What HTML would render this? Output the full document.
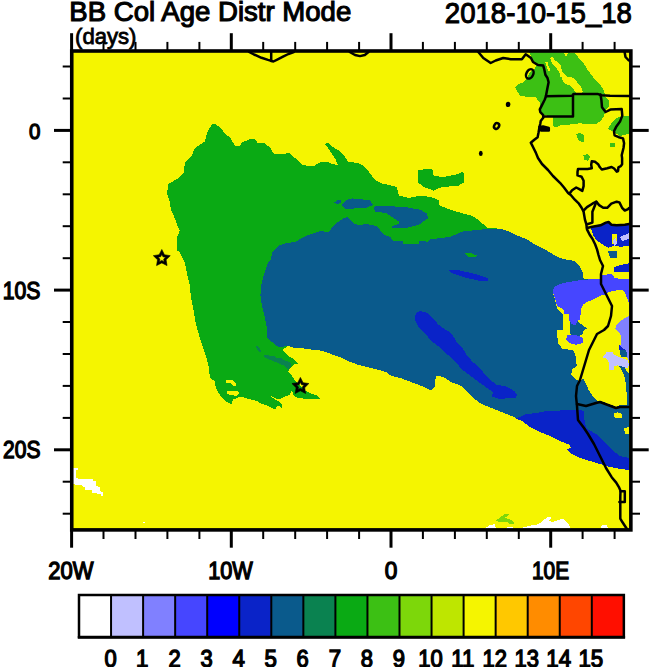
<!DOCTYPE html>
<html><head><meta charset="utf-8"><title>BB Col Age Distr Mode</title>
<style>html,body{margin:0;padding:0;background:#fff;width:650px;height:667px;overflow:hidden}
svg{display:block}
text{font-family:"Liberation Sans",Arial,sans-serif;fill:#000}
</style></head><body>
<svg width="650" height="667" viewBox="0 0 650 667">
<defs><clipPath id="mc"><rect x="72" y="51" width="558" height="478"/></clipPath></defs>
<rect x="0" y="0" width="650" height="667" fill="#fff"/>
<g clip-path="url(#mc)" shape-rendering="crispEdges">
<rect x="72" y="51" width="558" height="478" fill="#F5F500"/>

<polygon fill="#0AAA14" points="212,124 216,124.5 222,129 225,134 230,137.5 235,146 240,146 242,142.5 250,139 255,139.5 257.5,142.5 264,142.8 270.4,148 274,154 283,154 289,153 295,158 303,165 313,166.5 319,162.7 327.7,161.5 331.5,164 337.7,165 336,160 332,154 328,148 325,144 328,142.3 333,147 338,150 344,155 347.7,161.5 357.7,163 362.7,165 367.6,170 371.4,175 375,180 382.6,184 387,184.5 396.7,187 399,195.6 409,198 413.9,196.8 423.7,195.6 433.6,198 438.5,200 438.5,205 448.4,209 460.7,212.8 470.5,215.3 475.5,217.7 482.9,223.9 487.8,228 500.7,228.7 508.2,231.2 515.7,235 525.7,238.7 535.6,244.9 545.6,249.9 554,255 560,258 568,260 571.2,260 576,262 580.2,267 583,272.5 583.6,279.4 629,279 629,470 620,469 610,467 600,464 590,461 580,458 572,454 566,449 571,448 570,445 560,441 550,436 540,432 530,427 520.7,420 510.7,415.6 498.2,410.7 485.8,405.7 478.3,402 470.8,395.7 465.8,390.7 460.8,385.7 450.8,382 443.4,377 435.9,375.7 434.6,387 430.9,390.7 421,385.7 411,382 401,378.2 391,375.7 386,372 377.6,369.6 367.6,367.1 357.7,364.6 347.7,360.9 340.2,357.1 332.7,354.6 322.8,350.9 312.8,349.7 302.8,348.4 295.3,348.4 287.9,345.9 282,350 288,356 294,359 298,364 294,364 290,368 288,372 292,376 296,382 304,390 310,393 318,396 320,399 308,399 298,398 294,396 292,390 290,394.6 287.5,395.8 283.8,397.1 278.9,399.5 272.8,397.1 270.3,394.6 271.5,397.1 275.2,399.5 277.7,400.8 280.8,403.2 282.6,405.7 281.4,408.2 278.9,405.7 276.5,406.9 275.2,409.4 272.8,408.2 269.1,406.3 264.2,404.5 260.5,403.2 256.8,400.8 250.6,399.5 244.5,397.7 239.5,396.5 237.1,398.3 232.8,399.5 232.2,403.8 228.5,403.2 223.5,399.5 221.1,397.1 217.4,390.9 215.5,386 214.9,381.1 210,378 208.4,364.6 204.7,352.1 199.7,337.2 196,324.7 193.4,309.8 191,297.3 189.7,284.8 187.2,274.8 184.7,262.4 179.7,252.4 176.7,250 177.2,237.4 179.7,230 177.2,225 173.5,215 171,210 170,203 167,193 168.5,184 177,179 183.5,173 185,163 192,155 195,148 205,141.5 207,133"/>
<polygon fill="#0A5A8C" points="271,260 272,253 278,246 284,243.6 296,241.6 302,238 308,235 312,234 320,231 328,232 331,229 334,225 338,222 344,218 348,217 350,220 354,224 360,225 366,224 376,226 380,230 384,235 390,236.9 393.4,240.6 403.2,240.6 403.2,244.3 419.2,244.3 419.2,240.6 427.8,241.8 430.3,239.4 438.9,238.2 450,236.9 463.2,231.3 477.9,230 487.8,228.8 500.7,228.7 508.2,231.2 515.7,235 525.7,238.7 535.6,244.9 545.6,249.9 554,255 560,258 568,260 571.2,260 576,262 580.2,267 583,272.5 583.6,279.4 629,279 629,470 620,469 610,467 600,464 590,461 580,458 572,454 566,449 571,448 570,445 560,441 550,436 540,432 530,427 520.7,420 510.7,415.6 498.2,410.7 485.8,405.7 478.3,402 470.8,395.7 465.8,390.7 460.8,385.7 450.8,382 443.4,377 435.9,375.7 434.6,387 430.9,390.7 421,385.7 411,382 401,378.2 391,375.7 386,372 377.6,369.6 367.6,367.1 357.7,364.6 347.7,360.9 340.2,357.1 332.7,354.6 322.8,350.9 312.8,349.7 302.8,348.4 295.3,348.4 287.9,345.9 280.4,347.2 276,346 272,342 267,338 266.7,327.2 264.2,314.7 261.7,304.8 260.4,294.8 261.7,282.3 265.4,269.9 267.9,262.4"/>
<polygon fill="#0A5A8C" points="341,205 346,200 352,198.4 360,199 370,200.5 373,205 366,208 354,208.5 346,209"/>
<polygon fill="#0A5A8C" points="374.9,205.5 390.9,206.2 406.9,207.4 420.5,209.8 426.6,213.5 428.5,217.8 424.2,220.9 419.2,224.6 406.9,227.7 392.2,227.7 391.5,226.5 398.3,224 399.5,221.5 395.8,219.7 386,212.9 374.9,211.7 374.3,208.6"/>
<polygon fill="#0A5A8C" points="334,202.5 338,200.2 341,200.2 341,203 337.5,204"/>
<polygon fill="#F5F500" points="553.3,289.2 581,280 629,279 629,404.3 619.3,405.2 616.6,407.1 611.9,405.2 606.4,403.4 602.7,401.6 597.2,400.6 593.5,397 588.9,390.5 586.1,384 583.3,378.5 580.1,381.3 576,380 571.3,374.5 572,369.1 576.7,366.4 576,357 573.3,350.2 562.5,348.9 558.5,343.5 557.1,335.4 557,330 562.5,329.9 562.5,314.2 557,308 553.3,293.8"/>
<polygon fill="#0A5A8C" points="617.8,365.3 621.2,365.5 624.9,367.4 626.7,371 629,373 629,405 626.5,405 626.5,392 625.5,382 624,375 621,369"/>
<polygon fill="#0A5A8C" points="619.6,350.4 626.8,350.4 627.4,357 621,357"/>
<polygon fill="#0A23C8" points="619,345 626.2,345 626.2,350.4 619,350.4"/>
<polygon fill="#0A5A8C" points="569.5,320.6 577.3,321.1 580.1,323.4 583.8,326.2 587.5,328 583.8,329.9 582.9,333.6 579.2,336.3 572.7,335.4 569.9,333.6 569.9,326.2"/>
<polygon fill="#4646FF" points="553.3,289.2 555.2,286.5 559.8,284.2 567.2,282.3 574.5,281 581,280 599.6,278.7 601,275.2 606.5,274.5 612,273.9 614.8,278 623,279.4 629,278.7 629,303 624.5,291.9 621.7,289.8 616.2,290.5 609.3,291.9 605.1,294.6 600.4,295.7 596.7,297.5 591.2,300.3 585.6,302.6 582.9,304.9 581,308.6 580.5,315.1 580.1,319.7 577.3,321.1 575.5,325.2 571.8,324.3 569.5,320.6 569,314.2 564.4,314.2 563.5,309.5 560.7,307.7 557,305.9 555.2,298.5 553.3,293.8"/>
<polygon fill="#4646FF" points="567.3,335.4 574,334.5 579.2,336.3 582.8,338 582.8,343 576,344.8 569,343 566,339"/>
<polygon fill="#8080FF" points="627.4,316.8 620.2,321 616,325.2 615.4,328.8 619,332.4 620.8,336 621.4,343.2 620.2,346.2 626.2,350.4 627.4,357.6 629,361 629,316"/>
<polygon fill="#C0C0FF" points="603.4,356.4 607,351.6 611.8,351.6 614.8,355.2 620,357.5 627.4,360 629,364.7 627.4,368.3 621,366 617.2,365.3 614.2,366.5 613.6,369.5 609.4,369.5 608.8,362.4 607,358.8 603.4,357.6"/>
<polygon fill="#F5F500" points="613.8,413 618,412.3 621.9,414 621.5,417.7 616,418 613.8,416"/>
<polygon fill="#F5F500" points="624,428 629,427 629,434 625,434"/>
<polygon fill="#0A23C8" points="419.7,311 425.9,312.2 432.1,317.2 438.4,324.7 446,330 450,332 453.1,336.2 456.9,342.3 462.3,347.7 466.9,355.4 472.3,361.5 479.2,367.7 485.4,374.6 491.5,380.8 496.2,384.6 505.4,386.2 510,388.5 514.6,391.5 516.9,394.6 516.2,397.7 506.9,397.7 503.8,399.2 497.7,398.5 491.5,396.2 493.1,393.1 490,390 485.4,386.9 479.2,382.3 473.1,377.7 466.9,373.1 460.8,368.5 456.2,362.3 450,356.2 445.4,353.1 439.2,346.9 433.1,342.3 430,339.2 425.9,334.7 418.4,327.2 414.7,319.7 416,313"/>
<polygon fill="#0A23C8" points="448,270 460,270.5 475,274 488,278 488,281 478,280.5 465,277.5 452,273"/>
<polygon fill="#0A23C8" points="515,419 525.7,414.4 535.6,413.1 546,411 560,410.5 572,410 578,409.6 584,411 584,417 586,428 596,434 604,442 612,450 620,456 629,458 629,470 620,469 610,467 600,464 590,461 580,458 572,454 566,449 571,448 570,445 560,441 550,436 540,432 530,427 520.7,420"/>
<polygon fill="#0A23C8" points="591,226.7 600.5,225.3 605.9,222.6 608.6,222 611.3,224.7 616.7,225.3 624.8,224.7 629,224 629,245.6 627.5,245.6 620.7,246.9 614,245.6 608.6,247.6 604.5,245.6 600.5,242.9 596.4,240.2 593.7,236.1 591.7,231.4"/>
<polygon fill="#F5F500" points="612,234 616.7,234 616.7,243.5 612,243.5"/>
<polygon fill="#C0C0FF" points="620,237 629,233 629,239 622,241"/>
<polygon fill="#C0C0FF" points="613,240 616,238 617,244 614,246"/>
<polygon fill="#0A23C8" points="614,267 620,265 626,264 629,263 629,272 622,272 614,272"/>
<polygon fill="#0A5A8C" points="608,251 616.7,251 616.7,257.7 610,257.7"/>
<polygon fill="#0AAA14" points="464.6,253 470,252.9 477,255.5 476,257.4 468,256.5"/>
<polygon fill="#0A8250" points="255.4,345 258,346.5 261.5,351 260,352.7 257,349"/>
<polygon fill="#0A8250" points="264.2,355 268.5,355.4 272.3,356.2 275.4,356.5 276.9,358.5 280.8,358 283.8,360 288.5,361.5 290.8,363 290.8,367 288.5,369.6 286.2,367.7 283.8,365.4 280.8,364.6 277.7,363 273,360.8 268.5,359.2 264.6,357.7"/>
<polygon fill="#F5F500" points="226,380 232,380 235.8,383 235.8,386 233,386 231,383 226,383"/>
<polygon fill="#F5F500" points="227.2,391 238,391 239.5,393 237,396 231,395 227.2,394"/>
<polygon fill="#0AAA14" points="417.6,169.7 432.4,169.2 433.6,175.9 443.4,177.1 455.8,174.6 461.9,172.2 464.4,173.4 464.4,182 458.2,185.7 443.4,187 438.5,188.2 433.6,190.6 423.7,187 417.6,182"/>
<polygon fill="#3CC014" points="528.8,52 566,52 574.4,53.2 577.7,56.5 580.9,60.8 584.1,64 587.4,69.4 590.6,73.7 593.8,78 598.1,82.3 601.4,86.6 603.5,89.8 604.6,93 604.6,96 609,100 609,106 606,110 604,116 600.8,121 596,124 579.2,123.4 569.6,124.6 560,125.5 556,127.4 553,126 553,117.5 546,115 543,114.8 540.3,112.1 539.8,109.4 540,103 536,97.5 520,96 515,87 518,84 524,82 527,78 530,72 534,70 536,66 532,58"/>
<polygon fill="#F5F500" points="550,57.7 552.7,57.3 555,60.4 558.8,62.7 561.2,66.5 561.9,71.9 565,74.2 567.3,76.5 574.2,78.1 576.5,81.2 578.1,83.5 580.4,85.8 581.9,88.1 582.7,91.2 581.9,93.8 576.5,93.8 575.8,92.7 573.5,88.8 570.4,85.8 565.8,84.2 562.7,81.9 562.3,77.3 560.4,76.5 559.6,72.7 556.5,68.1 552.3,63.5"/>
<polygon fill="#F5F500" points="545,62.3 547.5,62.3 548.8,66.5 550.4,70.4 548,71.2 546.5,65.8"/>
<polygon fill="#F5F500" points="564.2,53 568.5,53 566,56.5"/>
<polygon fill="#3CC014" points="608,128.8 611.6,122.8 616.4,118 623.5,115.6 629,115.6 629,133.6 620,136 614,132"/>
<polygon fill="#3CC014" points="576,134 580,133 584,135 584,142.6 579,141"/>
<polygon fill="#3CC014" points="610.4,143.2 614.6,143.2 614.6,146.8 610.4,146.8"/>
<polygon fill="#3CC014" points="583.4,155 588,154 590.6,157 588,160.6 584,160"/>
<polygon fill="#7DD70A" points="496.2,520.4 500,517.3 504.6,514.2 509.2,513.5 507.7,515.8 504.6,518 510.8,519.6 512.3,521.2 514.6,522.7 513,524.2 509.2,524.2 507.7,521.9 498.5,521.9"/>
<polygon fill="#FFFFFF" points="73,468 78,468 78,469.8 76.2,469.8 76.2,477.8 78,478.5 92.8,479.1 93.1,480.9 95.8,481.2 96.2,485.8 98.3,486.5 99.8,487.1 100.2,491.1 102,491.7 102.9,492.6 102.9,495.7 101.1,495.7 100.8,493.5 97.1,493.5 92.2,492.6 91.5,490.2 85.1,489.8 84.8,487.7 82.3,485.8 81.7,484.6 74.9,484.6 73,483.4"/>
<polygon fill="#FFFFFF" points="520,528.5 529.2,525.8 538.5,524.2 543.1,520.4 547.7,517.3 551.5,517.3 549.2,520.4 552.3,521.9 561.5,519.2 564.6,519.6 569.2,525 570.8,528.5"/>
<polygon fill="#FFFFFF" points="485.4,528.5 489.2,525 494.6,524.2 496,528.5"/>
<polygon fill="#FFFFFF" points="506,528.5 507,526.5 512,526.5 513,528.5"/>
<polygon fill="#FFFFFF" points="600.5,528 602,525 607,525 608,528"/>
<polygon fill="#FFFFFF" points="143,522 145,521.5 145,523 143,523"/>
</g>
<g clip-path="url(#mc)" fill="none" stroke="#000" stroke-width="2.5" stroke-linejoin="round" stroke-linecap="round">
<polyline points="478.3,52 483.3,58 490.7,63 495.7,60.5 503.2,58 510.7,59.2 521.9,59.2 525.7,54.2 531,58 533,62 538,65 543.2,65.6 544.3,69.4 545.4,74.8 547.5,78 548.6,82.3 547.5,87.7 546.5,93 545.9,96.3 544.8,99.5 542.1,104.9 539.8,109.4 540.3,112.1 543,114.8 543.4,117.5 540.7,121.1 540.3,123.8 539.4,127.4 538.5,132.8 537.6,137.3 534,140 530.8,142.7 532.2,145.4 534,149 535.8,152.6 538,158 542,164 548,170 553,176 560,182.8 564,187.5 568.1,192.9 570.8,195 574.8,199.7 578.9,203.7 581.6,207.8 583.6,211.8 584.3,215.9 585,219.9 586.3,224 587,229.4 589.7,234.8 592.4,238.8 595.1,244.2 597.1,249.6 598.5,255 600,260 603,266 601,274 601,284 605,292 609,300 612,306 611,316 608,326 604,330 597,334 595,338 592,344 589,350 586,360 583,370 580,380 577,386 576,396 577,406 578,420 584,428 588,434 594,444 600,456 606,468 611.7,477.2 616.2,482.6 618.9,487.1 620.5,490.7 620.3,497 620.3,518.6 622.5,522.3 626.1,527.7 628,530"/>
<polyline points="249.1,52 254,54.5 261.5,57.8 268,59.9 273.4,61.5 277.7,59.4 283,56.7 288.4,54 293.8,52"/>
<polyline points="271.2,52 271.2,61"/>
<polyline points="349.7,52 355,55 360,56.1 364.8,55 368.5,52"/>
<polyline points="545.9,96.3 572.3,95.7 573.4,94.1 598.1,94.1 601.4,95.2 610,95.7 629,96"/>
<polyline points="573,95 573,116.4 543.5,116.4"/>
<polyline points="600.5,94.5 601.4,100 602,107.2 605.6,112 610.4,109.6 621.7,109 622.3,115.6 620,121.6 616.4,126.4 614,131.2 614.6,135.4 618.8,137.2 623,138.4 624.1,143.2 623.5,148 621.7,155.2 622.1,158.1 622.1,164.2 620.8,166.1 618.4,167.3 618.1,171 616.8,171.6 614.1,168.5 611.6,167 607.3,168.2 601.8,169.5 599.9,167.3 598.1,164.2 595,161.8 591.8,161.2 591.2,164.7 591.8,168.3 587.6,168.9 578,168.9 577.5,172 577.5,175.4 581.6,176.7 583.6,180.8 583.6,186.2 582.3,190.9 578.9,188.9 576.2,187.5 572.1,190.2 569.4,193.6"/>
<polyline points="583.6,210.5 587,207.1 592.4,203.7 596.4,201.7 599.1,205.1 603.2,207.8 607.2,207.8 611.3,203.7 616.7,201.7 619.4,202.4 622.1,207.8 624.8,210.5 628.2,209.1 629,208"/>
<polyline points="596.4,201.7 592.4,211.8 592.4,222.6 588,224"/>
<polyline points="587,228 592.4,226.7 600.5,225.3 605.9,222.6 608.6,222 611.3,224.7 616.7,225.3 624.8,224.7 629,224"/>
<polyline points="577,404 586,406 596,403 600,402 608,405 616,408 620,407 629,407"/>
<polyline points="624.6,52 625.5,57 628.8,60.5"/>
<polyline points="620.5,491.2 624.8,491.2 624.8,502 619.4,502"/>
<ellipse cx="529.8" cy="73.9" rx="3.4" ry="5.0" transform="rotate(28 529.8 73.9)"/>
<ellipse cx="496.6" cy="126.0" rx="2.4" ry="3.0" transform="rotate(30 496.6 126.0)"/>
<polygon points="539.4,127 543,126.5 548.8,128 548.8,130.5 541,130.5" fill="#000"/>
</g>
<ellipse cx="508.1" cy="104.4" rx="2.3" ry="2.6" fill="#000"/>
<ellipse cx="480.8" cy="153.4" rx="1.9" ry="2.6" fill="#000"/>
<path fill-rule="evenodd" fill="#000" stroke="#000" stroke-width="0.6" stroke-linejoin="round" d="M161.80,249.50 L164.45,254.76 L170.26,255.65 L166.08,259.79 L167.03,265.60 L161.80,262.90 L156.57,265.60 L157.52,259.79 L153.34,255.65 L159.15,254.76 Z M161.80,254.40 L162.98,256.78 L165.60,257.16 L163.70,259.02 L164.15,261.64 L161.80,260.40 L159.45,261.64 L159.90,259.02 L158.00,257.16 L160.62,256.78 Z"/>
<path fill-rule="evenodd" fill="#000" stroke="#000" stroke-width="0.6" stroke-linejoin="round" d="M300.40,377.40 L303.05,382.66 L308.86,383.55 L304.68,387.69 L305.63,393.50 L300.40,390.80 L295.17,393.50 L296.12,387.69 L291.94,383.55 L297.75,382.66 Z M300.40,382.30 L301.58,384.68 L304.20,385.06 L302.30,386.92 L302.75,389.54 L300.40,388.30 L298.05,389.54 L298.50,386.92 L296.60,385.06 L299.22,384.68 Z"/>
<rect x="71.75" y="51" width="559.1" height="478.9" fill="none" stroke="#000" stroke-width="3.6"/>
<line x1="71.6" y1="50" x2="71.6" y2="33.2" stroke="#000" stroke-width="3"/>
<line x1="71.6" y1="530" x2="71.6" y2="547.7" stroke="#000" stroke-width="3"/>
<line x1="103.5" y1="50" x2="103.5" y2="41.9" stroke="#000" stroke-width="2"/>
<line x1="103.5" y1="530" x2="103.5" y2="539.0" stroke="#000" stroke-width="2"/>
<line x1="135.5" y1="50" x2="135.5" y2="41.9" stroke="#000" stroke-width="2"/>
<line x1="135.5" y1="530" x2="135.5" y2="539.0" stroke="#000" stroke-width="2"/>
<line x1="167.4" y1="50" x2="167.4" y2="41.9" stroke="#000" stroke-width="2"/>
<line x1="167.4" y1="530" x2="167.4" y2="539.0" stroke="#000" stroke-width="2"/>
<line x1="199.4" y1="50" x2="199.4" y2="41.9" stroke="#000" stroke-width="2"/>
<line x1="199.4" y1="530" x2="199.4" y2="539.0" stroke="#000" stroke-width="2"/>
<line x1="231.3" y1="50" x2="231.3" y2="33.2" stroke="#000" stroke-width="3"/>
<line x1="231.3" y1="530" x2="231.3" y2="547.7" stroke="#000" stroke-width="3"/>
<line x1="263.2" y1="50" x2="263.2" y2="41.9" stroke="#000" stroke-width="2"/>
<line x1="263.2" y1="530" x2="263.2" y2="539.0" stroke="#000" stroke-width="2"/>
<line x1="295.2" y1="50" x2="295.2" y2="41.9" stroke="#000" stroke-width="2"/>
<line x1="295.2" y1="530" x2="295.2" y2="539.0" stroke="#000" stroke-width="2"/>
<line x1="327.1" y1="50" x2="327.1" y2="41.9" stroke="#000" stroke-width="2"/>
<line x1="327.1" y1="530" x2="327.1" y2="539.0" stroke="#000" stroke-width="2"/>
<line x1="359.1" y1="50" x2="359.1" y2="41.9" stroke="#000" stroke-width="2"/>
<line x1="359.1" y1="530" x2="359.1" y2="539.0" stroke="#000" stroke-width="2"/>
<line x1="391.0" y1="50" x2="391.0" y2="33.2" stroke="#000" stroke-width="3"/>
<line x1="391.0" y1="530" x2="391.0" y2="547.7" stroke="#000" stroke-width="3"/>
<line x1="422.9" y1="50" x2="422.9" y2="41.9" stroke="#000" stroke-width="2"/>
<line x1="422.9" y1="530" x2="422.9" y2="539.0" stroke="#000" stroke-width="2"/>
<line x1="454.9" y1="50" x2="454.9" y2="41.9" stroke="#000" stroke-width="2"/>
<line x1="454.9" y1="530" x2="454.9" y2="539.0" stroke="#000" stroke-width="2"/>
<line x1="486.8" y1="50" x2="486.8" y2="41.9" stroke="#000" stroke-width="2"/>
<line x1="486.8" y1="530" x2="486.8" y2="539.0" stroke="#000" stroke-width="2"/>
<line x1="518.8" y1="50" x2="518.8" y2="41.9" stroke="#000" stroke-width="2"/>
<line x1="518.8" y1="530" x2="518.8" y2="539.0" stroke="#000" stroke-width="2"/>
<line x1="550.7" y1="50" x2="550.7" y2="33.2" stroke="#000" stroke-width="3"/>
<line x1="550.7" y1="530" x2="550.7" y2="547.7" stroke="#000" stroke-width="3"/>
<line x1="582.6" y1="50" x2="582.6" y2="41.9" stroke="#000" stroke-width="2"/>
<line x1="582.6" y1="530" x2="582.6" y2="539.0" stroke="#000" stroke-width="2"/>
<line x1="614.6" y1="50" x2="614.6" y2="41.9" stroke="#000" stroke-width="2"/>
<line x1="614.6" y1="530" x2="614.6" y2="539.0" stroke="#000" stroke-width="2"/>
<line x1="71" y1="513.7" x2="62.7" y2="513.7" stroke="#000" stroke-width="2"/>
<line x1="631" y1="513.7" x2="640.0" y2="513.7" stroke="#000" stroke-width="2"/>
<line x1="71" y1="481.7" x2="62.7" y2="481.7" stroke="#000" stroke-width="2"/>
<line x1="631" y1="481.7" x2="640.0" y2="481.7" stroke="#000" stroke-width="2"/>
<line x1="71" y1="449.8" x2="54.0" y2="449.8" stroke="#000" stroke-width="3"/>
<line x1="631" y1="449.8" x2="648.7" y2="449.8" stroke="#000" stroke-width="3"/>
<line x1="71" y1="417.9" x2="62.7" y2="417.9" stroke="#000" stroke-width="2"/>
<line x1="631" y1="417.9" x2="640.0" y2="417.9" stroke="#000" stroke-width="2"/>
<line x1="71" y1="385.9" x2="62.7" y2="385.9" stroke="#000" stroke-width="2"/>
<line x1="631" y1="385.9" x2="640.0" y2="385.9" stroke="#000" stroke-width="2"/>
<line x1="71" y1="354.0" x2="62.7" y2="354.0" stroke="#000" stroke-width="2"/>
<line x1="631" y1="354.0" x2="640.0" y2="354.0" stroke="#000" stroke-width="2"/>
<line x1="71" y1="322.0" x2="62.7" y2="322.0" stroke="#000" stroke-width="2"/>
<line x1="631" y1="322.0" x2="640.0" y2="322.0" stroke="#000" stroke-width="2"/>
<line x1="71" y1="290.1" x2="54.0" y2="290.1" stroke="#000" stroke-width="3"/>
<line x1="631" y1="290.1" x2="648.7" y2="290.1" stroke="#000" stroke-width="3"/>
<line x1="71" y1="258.2" x2="62.7" y2="258.2" stroke="#000" stroke-width="2"/>
<line x1="631" y1="258.2" x2="640.0" y2="258.2" stroke="#000" stroke-width="2"/>
<line x1="71" y1="226.2" x2="62.7" y2="226.2" stroke="#000" stroke-width="2"/>
<line x1="631" y1="226.2" x2="640.0" y2="226.2" stroke="#000" stroke-width="2"/>
<line x1="71" y1="194.3" x2="62.7" y2="194.3" stroke="#000" stroke-width="2"/>
<line x1="631" y1="194.3" x2="640.0" y2="194.3" stroke="#000" stroke-width="2"/>
<line x1="71" y1="162.3" x2="62.7" y2="162.3" stroke="#000" stroke-width="2"/>
<line x1="631" y1="162.3" x2="640.0" y2="162.3" stroke="#000" stroke-width="2"/>
<line x1="71" y1="130.4" x2="54.0" y2="130.4" stroke="#000" stroke-width="3"/>
<line x1="631" y1="130.4" x2="648.7" y2="130.4" stroke="#000" stroke-width="3"/>
<line x1="71" y1="98.5" x2="62.7" y2="98.5" stroke="#000" stroke-width="2"/>
<line x1="631" y1="98.5" x2="640.0" y2="98.5" stroke="#000" stroke-width="2"/>
<line x1="71" y1="66.5" x2="62.7" y2="66.5" stroke="#000" stroke-width="2"/>
<line x1="631" y1="66.5" x2="640.0" y2="66.5" stroke="#000" stroke-width="2"/>
<text x="48.35" y="579.00" font-size="23.57" textLength="45.19" lengthAdjust="spacingAndGlyphs" stroke="#000" stroke-width="1.30">20W</text>
<text x="208.23" y="579.00" font-size="23.57" textLength="44.58" lengthAdjust="spacingAndGlyphs" stroke="#000" stroke-width="1.30">10W</text>
<text x="384.71" y="579.00" font-size="23.57" textLength="12.58" lengthAdjust="spacingAndGlyphs" stroke="#000" stroke-width="1.30">0</text>
<text x="531.96" y="579.00" font-size="23.57" textLength="37.19" lengthAdjust="spacingAndGlyphs" stroke="#000" stroke-width="1.30">10E</text>
<text x="29.05" y="138.60" font-size="22.42" textLength="11.40" lengthAdjust="spacingAndGlyphs" stroke="#000" stroke-width="1.30">0</text>
<text x="2.74" y="298.90" font-size="23.28" textLength="37.69" lengthAdjust="spacingAndGlyphs" stroke="#000" stroke-width="1.30">10S</text>
<text x="3.00" y="458.40" font-size="23.28" textLength="37.42" lengthAdjust="spacingAndGlyphs" stroke="#000" stroke-width="1.30">20S</text>
<text x="69.29" y="21.30" font-size="27.38" textLength="281.99" lengthAdjust="spacingAndGlyphs" stroke="#000" stroke-width="1.10">BB Col Age Distr Mode</text>
<text x="444.87" y="22.90" font-size="29.87" textLength="187.06" lengthAdjust="spacingAndGlyphs" stroke="#000" stroke-width="1.10">2018-10-15<tspan dy="-1.6">_</tspan><tspan dy="1.6">18</tspan></text>
<text x="75.03" y="43.90" font-size="22.21" textLength="61.45" lengthAdjust="spacingAndGlyphs" stroke="#000" stroke-width="0.80">(days)</text>
<rect x="79.00" y="595" width="32.05" height="42" fill="#FFFFFF"/>
<rect x="111.05" y="595" width="32.05" height="42" fill="#C0C0FF"/>
<rect x="143.10" y="595" width="32.05" height="42" fill="#8080FF"/>
<rect x="175.15" y="595" width="32.05" height="42" fill="#4646FF"/>
<rect x="207.20" y="595" width="32.05" height="42" fill="#0000FF"/>
<rect x="239.25" y="595" width="32.05" height="42" fill="#0A23C8"/>
<rect x="271.30" y="595" width="32.05" height="42" fill="#0A5A8C"/>
<rect x="303.35" y="595" width="32.05" height="42" fill="#0A8250"/>
<rect x="335.40" y="595" width="32.05" height="42" fill="#0AAA14"/>
<rect x="367.45" y="595" width="32.05" height="42" fill="#3CC014"/>
<rect x="399.50" y="595" width="32.05" height="42" fill="#7DD70A"/>
<rect x="431.55" y="595" width="32.05" height="42" fill="#BEE600"/>
<rect x="463.60" y="595" width="32.05" height="42" fill="#F5F500"/>
<rect x="495.65" y="595" width="32.05" height="42" fill="#FFC800"/>
<rect x="527.70" y="595" width="32.05" height="42" fill="#FF8C00"/>
<rect x="559.75" y="595" width="32.05" height="42" fill="#FF4600"/>
<rect x="591.80" y="595" width="32.05" height="42" fill="#FF0F00"/>
<line x1="111.05" y1="595" x2="111.05" y2="637" stroke="#000" stroke-width="2"/>
<line x1="143.10" y1="595" x2="143.10" y2="637" stroke="#000" stroke-width="2"/>
<line x1="175.15" y1="595" x2="175.15" y2="637" stroke="#000" stroke-width="2"/>
<line x1="207.20" y1="595" x2="207.20" y2="637" stroke="#000" stroke-width="2"/>
<line x1="239.25" y1="595" x2="239.25" y2="637" stroke="#000" stroke-width="2"/>
<line x1="271.30" y1="595" x2="271.30" y2="637" stroke="#000" stroke-width="2"/>
<line x1="303.35" y1="595" x2="303.35" y2="637" stroke="#000" stroke-width="2"/>
<line x1="335.40" y1="595" x2="335.40" y2="637" stroke="#000" stroke-width="2"/>
<line x1="367.45" y1="595" x2="367.45" y2="637" stroke="#000" stroke-width="2"/>
<line x1="399.50" y1="595" x2="399.50" y2="637" stroke="#000" stroke-width="2"/>
<line x1="431.55" y1="595" x2="431.55" y2="637" stroke="#000" stroke-width="2"/>
<line x1="463.60" y1="595" x2="463.60" y2="637" stroke="#000" stroke-width="2"/>
<line x1="495.65" y1="595" x2="495.65" y2="637" stroke="#000" stroke-width="2"/>
<line x1="527.70" y1="595" x2="527.70" y2="637" stroke="#000" stroke-width="2"/>
<line x1="559.75" y1="595" x2="559.75" y2="637" stroke="#000" stroke-width="2"/>
<line x1="591.80" y1="595" x2="591.80" y2="637" stroke="#000" stroke-width="2"/>
<rect x="79.00" y="595" width="544.85" height="42" fill="none" stroke="#000" stroke-width="2.5"/>
<line x1="77.8" y1="637.4" x2="625.1" y2="637.4" stroke="#000" stroke-width="2.6"/>
<text x="104.39" y="667.00" font-size="23.14" textLength="12.22" lengthAdjust="spacingAndGlyphs" stroke="#000" stroke-width="1.30">0</text>
<text x="136.05" y="667.00" font-size="23.47" textLength="12.40" lengthAdjust="spacingAndGlyphs" stroke="#000" stroke-width="1.30">1</text>
<text x="168.49" y="667.00" font-size="23.14" textLength="12.22" lengthAdjust="spacingAndGlyphs" stroke="#000" stroke-width="1.30">2</text>
<text x="200.61" y="667.00" font-size="23.14" textLength="12.22" lengthAdjust="spacingAndGlyphs" stroke="#000" stroke-width="1.30">3</text>
<text x="232.57" y="667.00" font-size="23.47" textLength="12.40" lengthAdjust="spacingAndGlyphs" stroke="#000" stroke-width="1.30">4</text>
<text x="264.57" y="667.00" font-size="23.47" textLength="12.40" lengthAdjust="spacingAndGlyphs" stroke="#000" stroke-width="1.30">5</text>
<text x="296.61" y="667.00" font-size="23.14" textLength="12.22" lengthAdjust="spacingAndGlyphs" stroke="#000" stroke-width="1.30">6</text>
<text x="328.64" y="667.00" font-size="23.47" textLength="12.40" lengthAdjust="spacingAndGlyphs" stroke="#000" stroke-width="1.30">7</text>
<text x="360.79" y="667.00" font-size="23.14" textLength="12.22" lengthAdjust="spacingAndGlyphs" stroke="#000" stroke-width="1.30">8</text>
<text x="392.84" y="667.00" font-size="23.14" textLength="12.22" lengthAdjust="spacingAndGlyphs" stroke="#000" stroke-width="1.30">9</text>
<text x="418.37" y="667.00" font-size="23.14" textLength="24.45" lengthAdjust="spacingAndGlyphs" stroke="#000" stroke-width="1.30">10</text>
<text x="451.18" y="667.00" font-size="23.47" textLength="23.15" lengthAdjust="spacingAndGlyphs" stroke="#000" stroke-width="1.30">11</text>
<text x="482.59" y="667.00" font-size="23.14" textLength="24.45" lengthAdjust="spacingAndGlyphs" stroke="#000" stroke-width="1.30">12</text>
<text x="514.58" y="667.00" font-size="23.14" textLength="24.45" lengthAdjust="spacingAndGlyphs" stroke="#000" stroke-width="1.30">13</text>
<text x="546.28" y="667.00" font-size="23.47" textLength="24.80" lengthAdjust="spacingAndGlyphs" stroke="#000" stroke-width="1.30">14</text>
<text x="578.47" y="667.00" font-size="23.47" textLength="24.80" lengthAdjust="spacingAndGlyphs" stroke="#000" stroke-width="1.30">15</text>
</svg></body></html>
